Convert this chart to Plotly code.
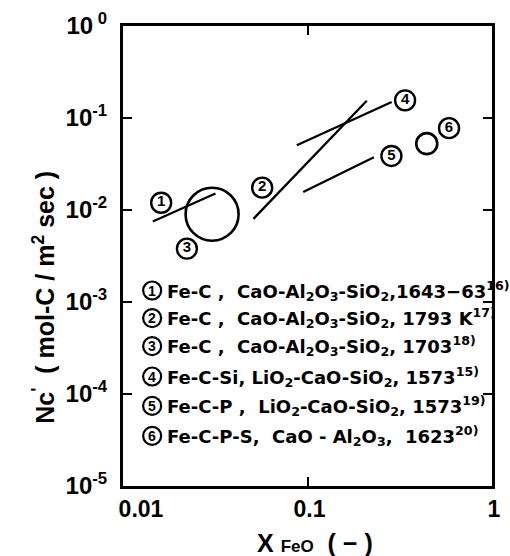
import numpy as np
import plotly.graph_objects as go

# ---- data ----
line_ids = ["1", "2", "4", "5"]
line_x0 = [0.0145, 0.0509, 0.0875, 0.0948]
line_y0 = [0.0075, 0.0080, 0.0505, 0.0157]
line_x1 = [0.0317, 0.2095, 0.286, 0.229]
line_y1 = [0.0151, 0.154, 0.149, 0.0375]

circle_ids = ["3", "6"]
circle_x = [0.0304, 0.443]
circle_y = [0.0090, 0.0526]
circle_size = [53, 21]

label_text = ["1", "2", "3", "4", "5", "6"]
label_x = [0.0161, 0.0568, 0.0222, 0.338, 0.285, 0.585]
label_y = [0.0120, 0.0175, 0.00380, 0.1556, 0.0387, 0.0776]

legend_num = ["1", "2", "3", "4", "5", "6"]
legend_lines = [
    "Fe-C ,  CaO-Al<sub>2</sub>O<sub>3</sub>-SiO<sub>2</sub>,1643−63<sup>16)</sup>",
    "Fe-C ,  CaO-Al<sub>2</sub>O<sub>3</sub>-SiO<sub>2</sub>, 1793 K<sup>17)</sup>",
    "Fe-C ,  CaO-Al<sub>2</sub>O<sub>3</sub>-SiO<sub>2</sub>, 1703<sup>18)</sup>",
    "Fe-C-Si, LiO<sub>2</sub>-CaO-SiO<sub>2</sub>, 1573<sup>15)</sup>",
    "Fe-C-P ,  LiO<sub>2</sub>-CaO-SiO<sub>2</sub>, 1573<sup>19)</sup>",
    "Fe-C-P-S,  CaO - Al<sub>2</sub>O<sub>3</sub>,  1623<sup>20)</sup>",
]
legend_row_y = [0.425, 0.365, 0.304, 0.238, 0.174, 0.109]

x_tickvals = [0.01, 0.1, 1]
x_ticktext = ["\u00a0\u00a0\u00a0\u00a0\u00a00.01", "0.1", "1"]
y_tickvals = [1, 0.1, 0.01, 0.001, 0.0001, 0.00001]
y_ticktext = ["10<sup> 0</sup>", "10<sup>-1</sup>", "10<sup>-2</sup>",
              "10<sup>-3</sup>", "10<sup>-4</sup>", "10<sup>-5</sup>"]

FONT = "Liberation Sans, Arial, Helvetica, sans-serif"
WIDE = "DejaVu Sans, Liberation Sans, sans-serif"

fig = go.Figure()
for i in range(len(line_ids)):
    fig.add_trace(go.Scatter(
        x=[line_x0[i], line_x1[i]], y=[line_y0[i], line_y1[i]],
        mode="lines", line=dict(color="black", width=2.3),
        showlegend=False, hoverinfo="skip"))

fig.add_trace(go.Scatter(
    x=circle_x, y=circle_y, mode="markers",
    marker=dict(symbol="circle-open", size=circle_size, color="black",
                opacity=1, line=dict(width=2.6, color="black")),
    showlegend=False, hoverinfo="skip"))

# circled labels in the plot
fig.add_trace(go.Scatter(
    x=label_x, y=label_y, mode="markers+text",
    text=["<b>" + t + "</b>" for t in label_text],
    textposition="middle center",
    textfont=dict(size=15, color="black", family=FONT),
    marker=dict(symbol="circle-open", size=20, color="black", opacity=1,
                line=dict(width=2.4, color="black")),
    showlegend=False, hoverinfo="skip"))

annotations = []
shapes = []
LEG_CX = 0.079
for n, t, y in zip(legend_num, legend_lines, legend_row_y):
    shapes.append(dict(type="circle", xref="paper", yref="paper",
                       xsizemode="pixel", ysizemode="pixel",
                       xanchor=LEG_CX, yanchor=y,
                       x0=-9, x1=9, y0=-9, y1=9,
                       line=dict(color="black", width=2.2)))
    annotations.append(dict(x=LEG_CX, y=y, xref="paper", yref="paper",
                            text="<b>" + n + "</b>", showarrow=False,
                            xanchor="center", yanchor="middle",
                            font=dict(size=14, color="black", family=FONT)))
    annotations.append(dict(x=0.113, y=y, xref="paper", yref="paper",
                            xanchor="left", yanchor="middle",
                            text="<b>" + t + "</b>", showarrow=False,
                            font=dict(size=18, color="black", family=WIDE)))

annotations.append(dict(
    x=-0.262, y=0.41, xref="paper", yref="paper", textangle=-90,
    text="<b>Nc<sup>'</sup>  ( mol-C / m<sup>2</sup> sec )</b>",
    showarrow=False, font=dict(size=25, color="black", family=FONT)))
annotations.append(dict(
    x=0.521, y=-0.123, xref="paper", yref="paper", yanchor="middle",
    text="<b>X <span style='font-size:17px'>FeO</span>  ( − )</b>",
    showarrow=False, font=dict(size=25, color="black", family=FONT)))

axis_common = dict(showgrid=False, zeroline=False, showline=True,
                   linecolor="black", linewidth=3, mirror="ticks",
                   ticks="inside", ticklen=9, tickwidth=2, tickcolor="black")

fig.update_xaxes(type="log", range=[-2, 0], tickvals=x_tickvals,
                 ticktext=["<b>" + t + "</b>" for t in x_ticktext],
                 tickfont=dict(size=23, color="black", family=FONT),
                 ticklabelshift=2, **axis_common)
fig.update_yaxes(type="log", range=[-5, 0], tickvals=y_tickvals,
                 ticktext=["<b>" + t + "</b>" for t in y_ticktext],
                 tickfont=dict(size=24, color="black", family=FONT),
                 ticklabelstandoff=8, **axis_common)

fig.update_layout(width=510, height=556,
                  margin=dict(l=123, r=9, t=22, b=70),
                  plot_bgcolor="white", paper_bgcolor="white",
                  annotations=annotations, shapes=shapes, showlegend=False)

fig.write_html("out.html")
